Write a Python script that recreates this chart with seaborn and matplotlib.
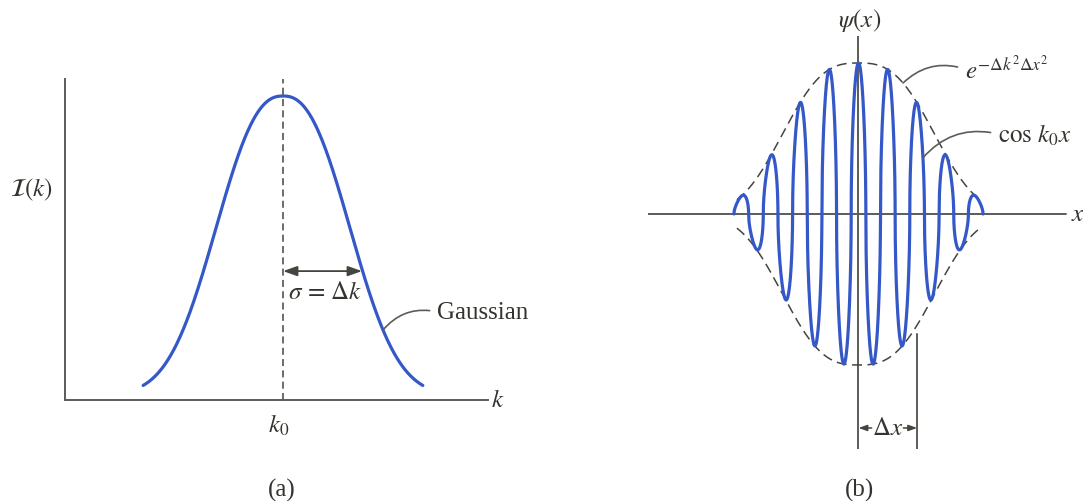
import numpy as np
import matplotlib
matplotlib.use("Agg")
import matplotlib.pyplot as plt
import seaborn as sns

# ---- (a) spectral amplitude I(k) ----
k0 = 0.0                 # centre of the distribution
sigma_k = 1.0            # width marked as sigma = Delta k
bell_width = 1.063       # width parameter of the drawn bell
bell_power = 2.4         # shape exponent of the drawn bell
bell_floor = 0.015       # level the tails settle to
k_range = (-1.77, 1.77)  # extent of the drawn curve (in units of sigma)

# ---- (b) wave packet psi(x) = envelope * cos(k0 x) ----
carrier_period = 1.0     # one oscillation of cos k0 x
lobe_exponent = 0.5      # rounds the tops of the drawn lobes
env_width = 3.05         # width parameter of the envelope
env_power = 2.8          # shape exponent of the envelope
x_range = (-4.25, 4.25)  # extent of the packet (in carrier periods)
delta_x = 2.0            # marked half-width Delta x

sns.set_theme(style="white")
plt.rcParams["font.family"] = ["Liberation Serif", "DejaVu Serif"]
plt.rcParams["mathtext.fontset"] = "stix"

BLUE = "#3558c8"
AXIS = "#5c5c56"
DASH = "#45453f"
TEXT = "#34342f"
FS = 18

fig = plt.figure(figsize=(10.83, 5.02), dpi=100)


def bell(k):
    return bell_floor + (1 - bell_floor) * np.exp(-(np.abs(k - k0) / bell_width) ** bell_power)


def envelope(x):
    return np.exp(-(np.abs(x) / env_width) ** env_power)


def carrier(x):
    c = np.cos(2 * np.pi * x / carrier_period)
    return np.sign(c) * np.abs(c) ** lobe_exponent


def psi(x):
    return envelope(x) * carrier(x)


# ================= panel (a) =================
axL = fig.add_axes([65 / 1083, 101 / 502, 423 / 1083, 321 / 502])
axL.set_xlim(-218 / 79, 205 / 79)
axL.set_ylim(0, 321 / 304)
for side in ("top", "right"):
    axL.spines[side].set_visible(False)
for side in ("left", "bottom"):
    axL.spines[side].set_color(AXIS)
    axL.spines[side].set_linewidth(1.4)
axL.set_xticks([])
axL.set_yticks([])
axL.set_facecolor("none")

k = np.linspace(k_range[0], k_range[1], 600)
sns.lineplot(x=k, y=bell(k), ax=axL, color=BLUE, linewidth=2.3, sort=False)

axL.plot([k0, k0], [0, 321 / 304], color=DASH, linewidth=1.1,
         linestyle=(0, (4.6, 2.8)), clip_on=False)

yarr = 0.424
axL.annotate("", xy=(k0, yarr), xytext=(k0 + sigma_k, yarr),
             arrowprops=dict(arrowstyle="<|-|>,head_length=0.85,head_width=0.3",
                             color=DASH, lw=1.3, shrinkA=0, shrinkB=0,
                             mutation_scale=10))
axL.text(k0 + 0.54, 0.355, r"$\sigma\,=\,\Delta k$", fontsize=FS, color=TEXT,
         ha="center", va="center")

kg = 1.266
axL.annotate("Gaussian", xy=(kg, bell(kg)), xytext=(1.95, 0.29),
             fontsize=FS, color=TEXT, ha="left", va="center",
             arrowprops=dict(arrowstyle="-", color=AXIS, lw=1.2,
                             connectionstyle="arc3,rad=0.3",
                             shrinkA=3, shrinkB=0, relpos=(0, 0.5)))

axL.text(-3.19, 0.694, r"$\mathcal{I}(k)$", fontsize=FS, color=TEXT,
         ha="center", va="center", clip_on=False)
axL.text(2.72, 0.0, r"$k$", fontsize=FS, color=TEXT, ha="center",
         va="center", clip_on=False)
axL.text(k0 - 0.05, -0.079, r"$k_0$", fontsize=FS, color=TEXT, ha="center",
         va="center", clip_on=False)
fig.text(282 / 1083, 1 - 490 / 502, "(a)", fontsize=FS, color=TEXT,
         ha="center", va="center")

# ================= panel (b) =================
axR = fig.add_axes([648 / 1083, 52 / 502, 424 / 1083, 413 / 502])
axR.set_xlim(-210.5 / 29.3, 213.5 / 29.3)
axR.set_ylim(-235 / 151, 178 / 151)
axR.axis("off")

axR.axhline(0, xmax=0.985, color=AXIS, linewidth=1.4)
axR.axvline(0, color=AXIS, linewidth=1.4)

x = np.linspace(x_range[0], x_range[1], 4000)
xe = np.linspace(x_range[0] + 0.1, x_range[1] - 0.1, 600)
sns.lineplot(x=xe, y=envelope(xe), ax=axR, color=DASH, linewidth=1.1,
             linestyle=(0, (6.5, 3.6)), sort=False)
sns.lineplot(x=xe, y=-envelope(xe), ax=axR, color=DASH, linewidth=1.1,
             linestyle=(0, (6.5, 3.6)), sort=False)
sns.lineplot(x=x, y=psi(x), ax=axR, color=BLUE, linewidth=2.3, sort=False)

# Delta x marker
ybot = -235 / 151
axR.plot([delta_x, delta_x], [ybot, -0.795], color=AXIS, linewidth=1.4)
yd = -1.417
for start, end in ((0.45, 0.0), (1.53, delta_x)):
    axR.annotate("", xy=(end, yd), xytext=(start, yd),
                 arrowprops=dict(arrowstyle="-|>,head_length=0.5,head_width=0.18",
                                 color=DASH, lw=1.1, shrinkA=0, shrinkB=0,
                                 mutation_scale=10))
axR.text(delta_x / 2, yd, r"$\Delta x$", fontsize=FS, color=TEXT,
         ha="center", va="center")

xe_pt = 1.52
axR.annotate(r"$e^{-\Delta k^2 \Delta x^2}$", xy=(xe_pt, envelope(xe_pt)),
             xytext=(3.63, 0.96), fontsize=FS, color=TEXT, ha="left",
             va="center",
             arrowprops=dict(arrowstyle="-", color=AXIS, lw=1.2,
                             connectionstyle="arc3,rad=0.3",
                             shrinkA=3, shrinkB=0, relpos=(0, 0.5)))
xc_pt = 2.2
axR.annotate(r"$\cos\,k_0 x$", xy=(xc_pt, psi(xc_pt)),
             xytext=(4.76, 0.53), fontsize=FS, color=TEXT, ha="left",
             va="center",
             arrowprops=dict(arrowstyle="-", color=AXIS, lw=1.2,
                             connectionstyle="arc3,rad=0.3",
                             shrinkA=3, shrinkB=0, relpos=(0, 0.5)))

axR.text(0.05, 1.29, r"$\psi(x)$", fontsize=FS, color=TEXT, ha="center",
         va="center", clip_on=False)
axR.text(7.24, 0.0, r"$x$", fontsize=FS, color=TEXT, ha="left",
         va="center", clip_on=False)
fig.text(860 / 1083, 1 - 490 / 502, "(b)", fontsize=FS, color=TEXT,
         ha="center", va="center")

fig.savefig("out.png", dpi=100, facecolor="white")
